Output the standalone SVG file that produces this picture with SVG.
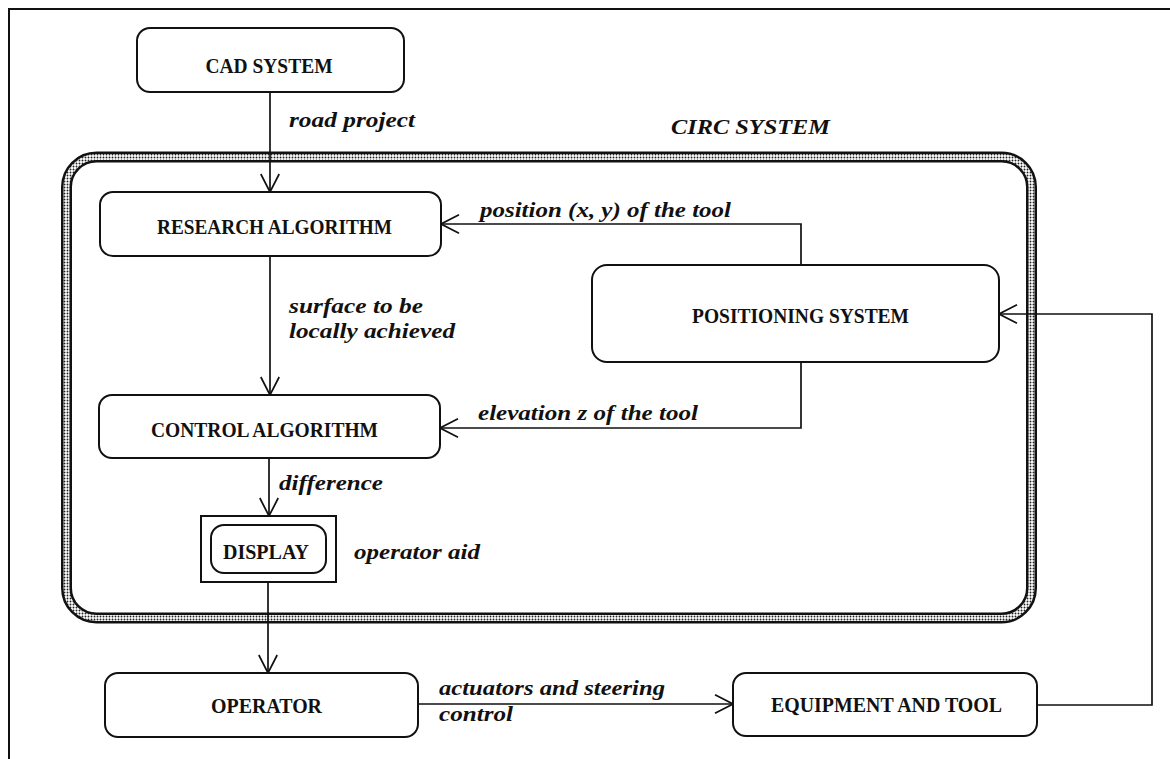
<svg xmlns="http://www.w3.org/2000/svg" width="1170" height="759" viewBox="0 0 1170 759">
<style>
.box{fill:#fff;stroke:#111;stroke-width:2}
.node{font-family:"Liberation Serif","Times New Roman",serif;font-weight:bold;font-size:21px;fill:#111}
.lbl{font-family:"Liberation Serif","Times New Roman",serif;font-weight:bold;font-style:italic;font-size:22px;fill:#111}
.con{fill:none;stroke:#111;stroke-width:1.7}
</style>
<defs>
<pattern id="dots" width="3" height="3" patternUnits="userSpaceOnUse">
<rect width="3" height="3" fill="#fff"/>
<circle cx="1.5" cy="1.5" r="0.95" fill="#222"/>
</pattern>
<marker id="arr" viewBox="0 0 20 20" refX="19" refY="10" markerWidth="20" markerHeight="20" markerUnits="userSpaceOnUse" orient="auto">
<path d="M1,0.8 L19,10 L1,19.2" fill="none" stroke="#111" stroke-width="1.7"/>
</marker>
</defs>
<rect width="1170" height="759" fill="#fff"/>
<g id="frame">
<path d="M9,759 V9 H1170" fill="none" stroke="#111" stroke-width="2"/>
</g>
<g id="circ-system">
<rect x="66.5" y="157" width="965" height="461" rx="30" fill="none" stroke="#111" stroke-width="11"/>
<rect x="66.5" y="157" width="965" height="461" rx="30" fill="none" stroke="url(#dots)" stroke-width="6"/>
<text class="lbl" x="671" y="134" font-size="22.5" textLength="159" lengthAdjust="spacingAndGlyphs">CIRC SYSTEM</text>
</g>
<g id="connectors">
<line class="con" x1="270" y1="92" x2="270" y2="192" marker-end="url(#arr)"/>
<line class="con" x1="270" y1="256" x2="270" y2="395" marker-end="url(#arr)"/>
<line class="con" x1="269" y1="458" x2="269" y2="516" marker-end="url(#arr)"/>
<line class="con" x1="268" y1="582" x2="268" y2="673" marker-end="url(#arr)"/>
<line class="con" x1="418" y1="704" x2="733" y2="704" marker-end="url(#arr)"/>
<path class="con" d="M801,265 V224 H441" marker-end="url(#arr)"/>
<path class="con" d="M801,362 V428 H440" marker-end="url(#arr)"/>
<path class="con" d="M1037,705 H1152 V314 H999" marker-end="url(#arr)"/>
<text class="lbl" x="289" y="127" textLength="126" lengthAdjust="spacingAndGlyphs">road project</text>
<text class="lbl" x="480" y="217" textLength="251" lengthAdjust="spacingAndGlyphs">position (x, y) of the tool</text>
<text class="lbl" x="289" y="313" textLength="134" lengthAdjust="spacingAndGlyphs">surface to be</text>
<text class="lbl" x="289" y="338" textLength="166" lengthAdjust="spacingAndGlyphs">locally achieved</text>
<text class="lbl" x="478" y="420" textLength="220" lengthAdjust="spacingAndGlyphs">elevation z of the tool</text>
<text class="lbl" x="279" y="490" textLength="104" lengthAdjust="spacingAndGlyphs">difference</text>
<text class="lbl" x="354" y="559" textLength="126" lengthAdjust="spacingAndGlyphs">operator aid</text>
<text class="lbl" x="439" y="695" textLength="226" lengthAdjust="spacingAndGlyphs">actuators and steering</text>
<text class="lbl" x="439" y="721" textLength="74" lengthAdjust="spacingAndGlyphs">control</text>
</g>
<g id="cad-system">
<rect class="box" x="137" y="28" width="267" height="64" rx="13"/>
<text class="node" x="205.5" y="73" textLength="127" lengthAdjust="spacingAndGlyphs">CAD SYSTEM</text>
</g>
<g id="research-algorithm">
<rect class="box" x="100" y="192" width="341" height="64" rx="13"/>
<text class="node" x="157" y="234" textLength="235" lengthAdjust="spacingAndGlyphs">RESEARCH ALGORITHM</text>
</g>
<g id="positioning-system">
<rect class="box" x="592" y="265" width="407" height="97" rx="15"/>
<text class="node" x="692" y="323" textLength="217" lengthAdjust="spacingAndGlyphs">POSITIONING SYSTEM</text>
</g>
<g id="control-algorithm">
<rect class="box" x="99" y="395" width="341" height="63" rx="13"/>
<text class="node" x="151" y="437" textLength="227" lengthAdjust="spacingAndGlyphs">CONTROL ALGORITHM</text>
</g>
<g id="display">
<rect x="201" y="516" width="135" height="66" fill="#fff" stroke="#111" stroke-width="2"/>
<rect class="box" x="211" y="525" width="115" height="48" rx="13"/>
<text class="node" x="223" y="559" textLength="86" lengthAdjust="spacingAndGlyphs">DISPLAY</text>
</g>
<g id="operator">
<rect class="box" x="105" y="673" width="313" height="64" rx="13"/>
<text class="node" x="211" y="713" textLength="111" lengthAdjust="spacingAndGlyphs">OPERATOR</text>
</g>
<g id="equipment-and-tool">
<rect class="box" x="733" y="673" width="304" height="63" rx="13"/>
<text class="node" x="771" y="712" textLength="231" lengthAdjust="spacingAndGlyphs">EQUIPMENT AND TOOL</text>
</g>
</svg>
